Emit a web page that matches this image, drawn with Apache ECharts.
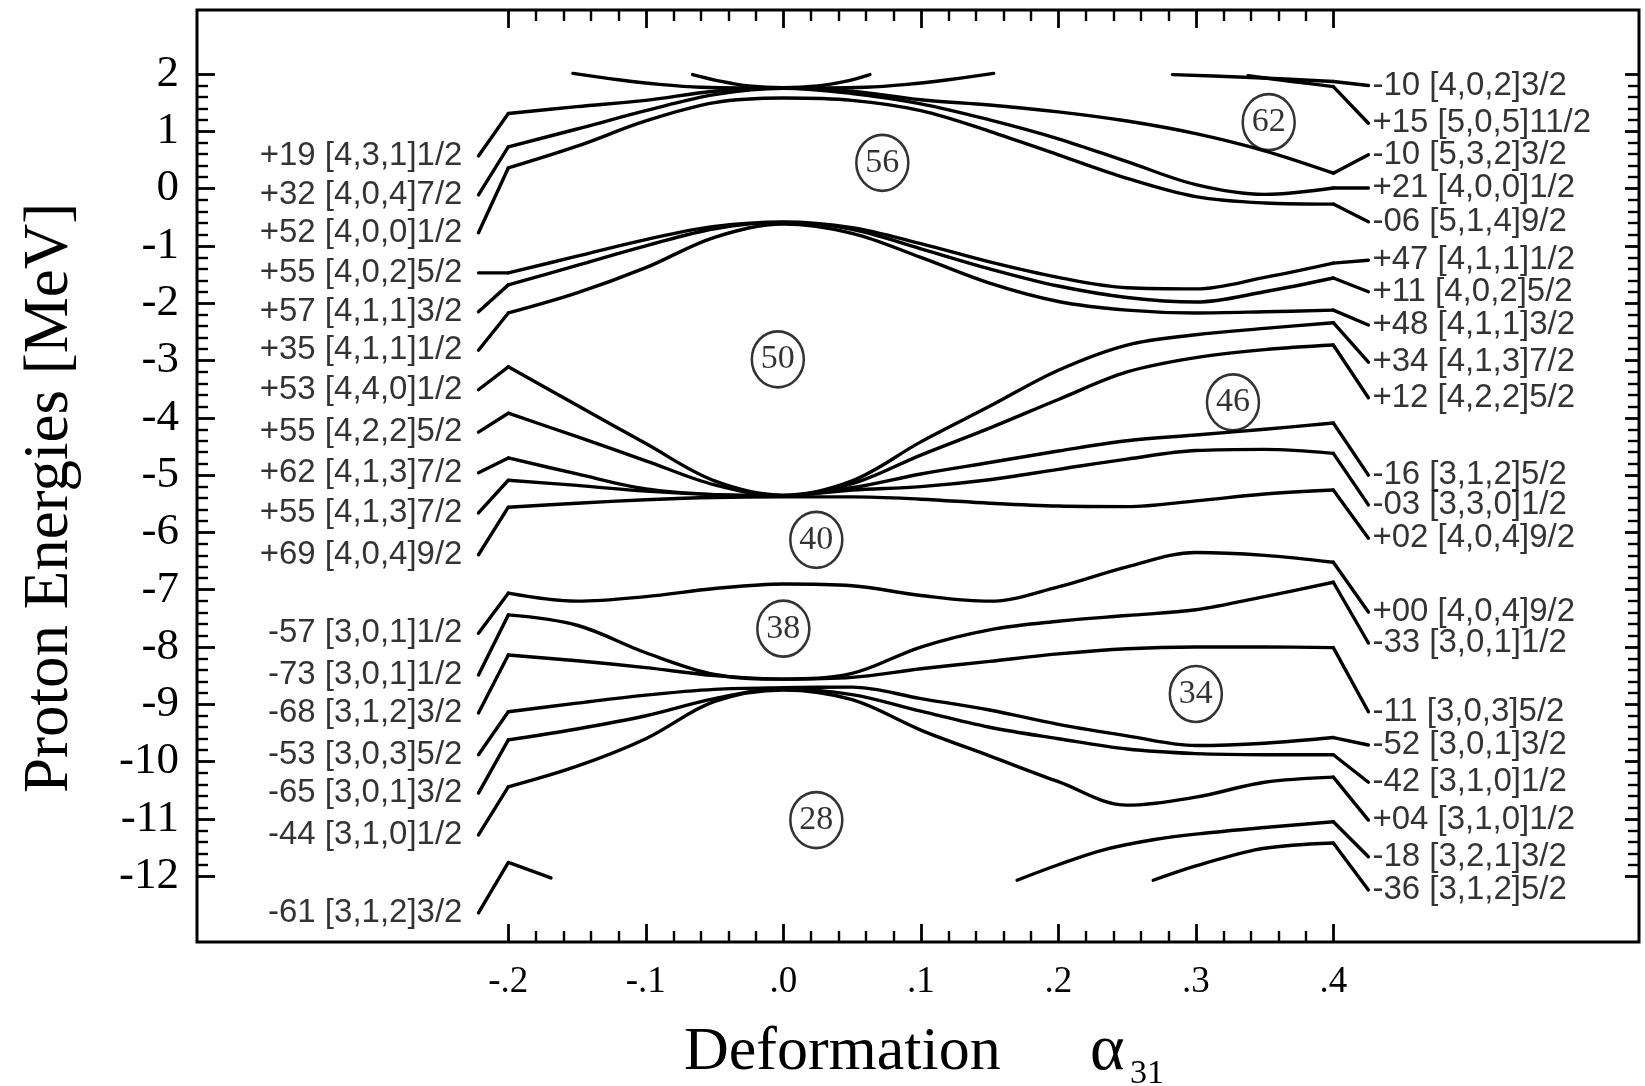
<!DOCTYPE html>
<html><head><meta charset="utf-8">
<script src="https://cdn.jsdelivr.net/npm/echarts@6.0.0/dist/echarts.min.js"></script>
<style>html,body{margin:0;padding:0;background:#fff}#c{width:1645px;height:1086px}</style>
</head><body><div id="c"></div>
<script>
// ---------------- data ----------------
const X_GRID = [-0.2,-0.15,-0.1,-0.05,0,0.05,0.1,0.15,0.2,0.25,0.3,0.35,0.4];

const xTickLabels = ['-.2','-.1','.0','.1','.2','.3','.4'];
const yTickLabels = ['2','1','0','-1','-2','-3','-4','-5','-6','-7','-8','-9','-10','-11','-12'];

const leftLabels = ['+19 [4,3,1]1/2','+32 [4,0,4]7/2','+52 [4,0,0]1/2','+55 [4,0,2]5/2','+57 [4,1,1]3/2',
  '+35 [4,1,1]1/2','+53 [4,4,0]1/2','+55 [4,2,2]5/2','+62 [4,1,3]7/2','+55 [4,1,3]7/2','+69 [4,0,4]9/2',
  '-57 [3,0,1]1/2','-73 [3,0,1]1/2','-68 [3,1,2]3/2','-53 [3,0,3]5/2','-65 [3,0,1]3/2','-44 [3,1,0]1/2','-61 [3,1,2]3/2'];
const leftLabelY = [0.57,-0.11,-0.77,-1.47,-2.15,-2.82,-3.51,-4.25,-4.96,-5.66,-6.39,-7.76,-8.49,-9.15,-9.88,-10.55,-11.28,-12.64];

const rightLabels = ['-10 [4,0,2]3/2','+15 [5,0,5]11/2','-10 [5,3,2]3/2','+21 [4,0,0]1/2','-06 [5,1,4]9/2',
  '+47 [4,1,1]1/2','+11 [4,0,2]5/2','+48 [4,1,1]3/2','+34 [4,1,3]7/2','+12 [4,2,2]5/2',
  '-16 [3,1,2]5/2','-03 [3,3,0]1/2','+02 [4,0,4]9/2','+00 [4,0,4]9/2','-33 [3,0,1]1/2',
  '-11 [3,0,3]5/2','-52 [3,0,1]3/2','-42 [3,1,0]1/2','+04 [3,1,0]1/2','-18 [3,2,1]3/2','-36 [3,1,2]5/2'];
const rightLabelY = [1.80,1.14,0.59,0.01,-0.58,-1.25,-1.80,-2.38,-3.03,-3.65,-5.00,-5.52,-6.10,-7.39,-7.93,-9.13,-9.71,-10.36,-11.02,-11.66,-12.24];

// full-width levels, values on X_GRID
const lvA = [1.31,1.43,1.54,1.70,1.76,1.70,1.55,1.46,1.34,1.18,0.96,0.66,0.27];
const lvB = [0.73,1.04,1.36,1.64,1.75,1.66,1.48,1.20,0.87,0.47,0.07,-0.10,0.01];
const lvC = [0.36,0.74,1.18,1.50,1.58,1.54,1.36,1.00,0.59,0.18,-0.14,-0.25,-0.27];
const lvD = [-1.47,-1.18,-0.89,-0.66,-0.58,-0.68,-0.96,-1.28,-1.55,-1.73,-1.75,-1.55,-1.30];
const lvE = [-1.68,-1.34,-1.00,-0.70,-0.59,-0.71,-1.05,-1.40,-1.70,-1.90,-1.98,-1.80,-1.56];
const lvF = [-2.17,-1.82,-1.38,-0.85,-0.62,-0.78,-1.20,-1.65,-1.97,-2.12,-2.17,-2.15,-2.12];
const lvH = [-3.11,-3.78,-4.45,-5.10,-5.35,-5.10,-4.42,-3.80,-3.17,-2.73,-2.55,-2.44,-2.34];
const lvI = [-3.92,-4.33,-4.75,-5.17,-5.36,-5.15,-4.65,-4.18,-3.68,-3.20,-2.95,-2.81,-2.73];
const lvJ = [-4.70,-4.98,-5.24,-5.34,-5.36,-5.22,-4.98,-4.78,-4.58,-4.40,-4.30,-4.20,-4.09];
const lvK = [-5.09,-5.18,-5.28,-5.34,-5.36,-5.26,-5.20,-5.08,-4.90,-4.72,-4.57,-4.55,-4.62];
const lvL = [-5.56,-5.49,-5.43,-5.39,-5.38,-5.38,-5.42,-5.49,-5.54,-5.55,-5.45,-5.33,-5.26];
const lvP = [-7.06,-7.20,-7.12,-6.98,-6.90,-6.93,-7.10,-7.20,-6.95,-6.60,-6.35,-6.40,-6.52];
const lvQ = [-7.44,-7.62,-8.10,-8.48,-8.56,-8.46,-8.00,-7.70,-7.55,-7.45,-7.35,-7.12,-6.87];
const lvR = [-8.14,-8.24,-8.36,-8.50,-8.56,-8.53,-8.38,-8.25,-8.12,-8.03,-8.00,-8.00,-8.01];
const lvS = [-9.13,-8.98,-8.84,-8.74,-8.71,-8.70,-8.90,-9.10,-9.35,-9.55,-9.72,-9.68,-9.58];
const lvT = [-9.62,-9.43,-9.20,-8.90,-8.73,-8.83,-9.12,-9.40,-9.60,-9.78,-9.86,-9.88,-9.88];
const lvU = [-10.44,-10.08,-9.60,-8.95,-8.75,-8.92,-9.45,-9.90,-10.35,-10.76,-10.62,-10.36,-10.27];

// partial levels
const u1X = [-0.153,-0.12,-0.09,-0.06,0,0.06,0.09,0.12,0.153];
const u1Y = [2.01,1.90,1.82,1.77,1.75,1.77,1.82,1.90,2.01];
const u2X = [-0.066,-0.045,-0.025,0,0.025,0.045,0.063];
const u2Y = [1.99,1.87,1.79,1.76,1.79,1.87,1.99];
const t1X = [0.283,0.34,0.4];
const t1Y = [1.99,1.94,1.87];
const t2X = [0.338,0.37,0.4];
const t2Y = [1.97,1.87,1.78];
const vX = [-0.2,-0.169];
const vY = [-11.76,-12.03];
const wX = [0.17,0.2,0.233,0.27,0.306,0.35,0.4];
const wY = [-12.07,-11.80,-11.54,-11.36,-11.25,-11.15,-11.05];
const xX = [0.269,0.3,0.343,0.37,0.4];
const xY = [-12.07,-11.82,-11.54,-11.46,-11.42];

const circleNums = ['62','56','50','46','40','38','34','28'];
const circleX = [0.353,0.072,-0.004,0.327,0.024,0.0,0.30,0.024];
const circleY = [1.16,0.45,-2.98,-3.73,-6.13,-7.68,-8.82,-11.02];

// ---------------- layout / style ----------------
const INK = '#000';
const LW = 3.4;
const LEFT_X = -0.2217, RIGHT_X = 0.4255;
const LABEL_FONT = '"Liberation Sans", Arial, sans-serif';
const SERIF = '"Liberation Serif", "Times New Roman", serif';

// [values, left label index, right label index]
const levelTable = [
  [lvA,0,2],[lvB,1,3],[lvC,2,4],[lvD,3,5],[lvE,4,6],[lvF,5,7],[lvH,6,8],[lvI,7,9],
  [lvJ,8,10],[lvK,9,11],[lvL,10,12],[lvP,11,13],[lvQ,12,14],[lvR,13,15],[lvS,14,16],[lvT,15,17],[lvU,16,18]
];

const series = [];
function addLine(data, smooth) {
  series.push({type:'line', xAxisIndex:0, yAxisIndex:0, data:data, smooth:smooth,
    symbol:'none', showSymbol:false, silent:true, animation:false, z:3,
    lineStyle:{color:INK, width:LW, cap:'round', join:'round'}});
}
const zip = (xs, ys) => xs.map((x,i)=>[x, ys[i]]);

levelTable.forEach(([ys, li, ri]) => {
  addLine(zip(X_GRID, ys), 0.35);
  addLine([[LEFT_X, leftLabelY[li]], [X_GRID[0], ys[0]]], false);
  addLine([[X_GRID[X_GRID.length-1], ys[ys.length-1]], [RIGHT_X, rightLabelY[ri]]], false);
});
addLine(zip(u1X,u1Y), 0.35);
addLine(zip(u2X,u2Y), 0.35);
addLine(zip(t1X,t1Y), 0.2);
addLine([[t1X[t1X.length-1], t1Y[t1Y.length-1]], [RIGHT_X, rightLabelY[0]]], false);
addLine(zip(t2X,t2Y), 0.2);
addLine([[t2X[t2X.length-1], t2Y[t2Y.length-1]], [RIGHT_X, rightLabelY[1]]], false);
addLine([[LEFT_X, leftLabelY[17]], [vX[0], vY[0]], [vX[1], vY[1]]], false);
addLine(zip(wX,wY), 0.35);
addLine([[wX[wX.length-1], wY[wY.length-1]], [RIGHT_X, rightLabelY[19]]], false);
addLine(zip(xX,xY), 0.35);
addLine([[xX[xX.length-1], xY[xY.length-1]], [RIGHT_X, rightLabelY[20]]], false);

// level labels
series.push({type:'scatter', xAxisIndex:0, yAxisIndex:0, symbolSize:0, silent:true, animation:false,
  data: leftLabels.map((t,i)=>({name:t, value:[LEFT_X, leftLabelY[i]]})),
  label:{show:true, position:'left', distance:16, formatter:'{b}', color:INK, fontFamily:LABEL_FONT, fontSize:33}});
series.push({type:'scatter', xAxisIndex:0, yAxisIndex:0, symbolSize:0, silent:true, animation:false,
  data: rightLabels.map((t,i)=>({name:t, value:[RIGHT_X, rightLabelY[i]]})),
  label:{show:true, position:'right', distance:4, formatter:'{b}', color:INK, fontFamily:LABEL_FONT, fontSize:33}});

// circled shell-gap numbers
series.push({type:'scatter', xAxisIndex:0, yAxisIndex:0, symbol:'circle', symbolSize:[52,56], silent:true, animation:false, z:4,
  itemStyle:{color:'rgba(255,255,255,0)', borderColor:INK, borderWidth:2.6},
  data: circleNums.map((t,i)=>({name:t, value:[circleX[i], circleY[i]]})),
  label:{show:true, position:'inside', formatter:'{b}', color:INK, fontFamily:SERIF, fontSize:34}});

const tickCommon = {
  axisLine:{show:false},
  axisTick:{show:true, inside:true, length:18, lineStyle:{color:INK, width:2.8}},
  minorTick:{show:true, splitNumber:5, length:11, lineStyle:{color:INK, width:2.4}},
  splitLine:{show:false}, minorSplitLine:{show:false}
};

const option = {
  backgroundColor:'#fff',
  animation:false,
  grid:[
    {left:197, top:10, width:1442, height:932, show:true, borderColor:INK, borderWidth:3, backgroundColor:'rgba(0,0,0,0)'},
    {left:508.3, top:10, width:825, height:932},
    {left:197, top:74, width:1442, height:802.2}
  ],
  xAxis:[
    {gridIndex:0, type:'value', min:-0.4264, max:0.6223, show:false},
    Object.assign({gridIndex:1, type:'value', min:-0.2, max:0.4, interval:0.1, position:'bottom',
      axisLabel:{show:true, margin:22, color:INK, fontFamily:SERIF, fontSize:37,
        formatter:(v)=>xTickLabels[Math.round((v+0.2)/0.1)]}}, tickCommon),
    Object.assign({gridIndex:1, type:'value', min:-0.2, max:0.4, interval:0.1, position:'top',
      axisLabel:{show:false}}, tickCommon),
    {gridIndex:2, type:'value', min:0, max:1, show:false}
  ],
  yAxis:[
    {gridIndex:0, type:'value', min:-13.148, max:3.117, show:false},
    {gridIndex:1, type:'value', min:0, max:1, show:false},
    Object.assign({gridIndex:2, type:'value', min:-12, max:2, interval:1, position:'left',
      axisLabel:{show:true, margin:18, color:INK, fontFamily:SERIF, fontSize:45,
        formatter:(v)=>yTickLabels[Math.round(2-v)]}}, tickCommon),
    Object.assign({gridIndex:2, type:'value', min:-12, max:2, interval:1, position:'right',
      axisLabel:{show:false}}, tickCommon, {axisTick:{show:true, inside:true, length:14, lineStyle:{color:INK, width:2.8}}})
  ],
  graphic:[
    {type:'text', x:50, y:498, rotation:Math.PI/2, silent:true,
      style:{text:'Proton Energies [MeV]', fill:INK, font:'63px "Liberation Serif"', fontSize:63, fontFamily:'Liberation Serif',
        align:'center', textAlign:'center', verticalAlign:'middle', textVerticalAlign:'middle'}},
    {type:'text', x:684, y:1053, silent:true,
      style:{text:'Deformation', fill:INK, font:'62px "Liberation Serif"', fontSize:62, fontFamily:'Liberation Serif',
        align:'left', textAlign:'left', verticalAlign:'middle', textVerticalAlign:'middle'}},
    {type:'text', x:1090, y:1052, silent:true,
      style:{text:'α', fill:INK, font:'66px "Liberation Serif"', fontSize:66, fontFamily:'Liberation Serif',
        align:'left', textAlign:'left', verticalAlign:'middle', textVerticalAlign:'middle'}},
    {type:'text', x:1130, y:1074, silent:true,
      style:{text:'31', fill:INK, font:'34px "Liberation Serif"', fontSize:34, fontFamily:'Liberation Serif',
        align:'left', textAlign:'left', verticalAlign:'middle', textVerticalAlign:'middle'}}
  ],
  series: series
};

const chart = echarts.init(document.getElementById('c'), null, {renderer:'canvas'});
chart.setOption(option);
</script></body></html>
